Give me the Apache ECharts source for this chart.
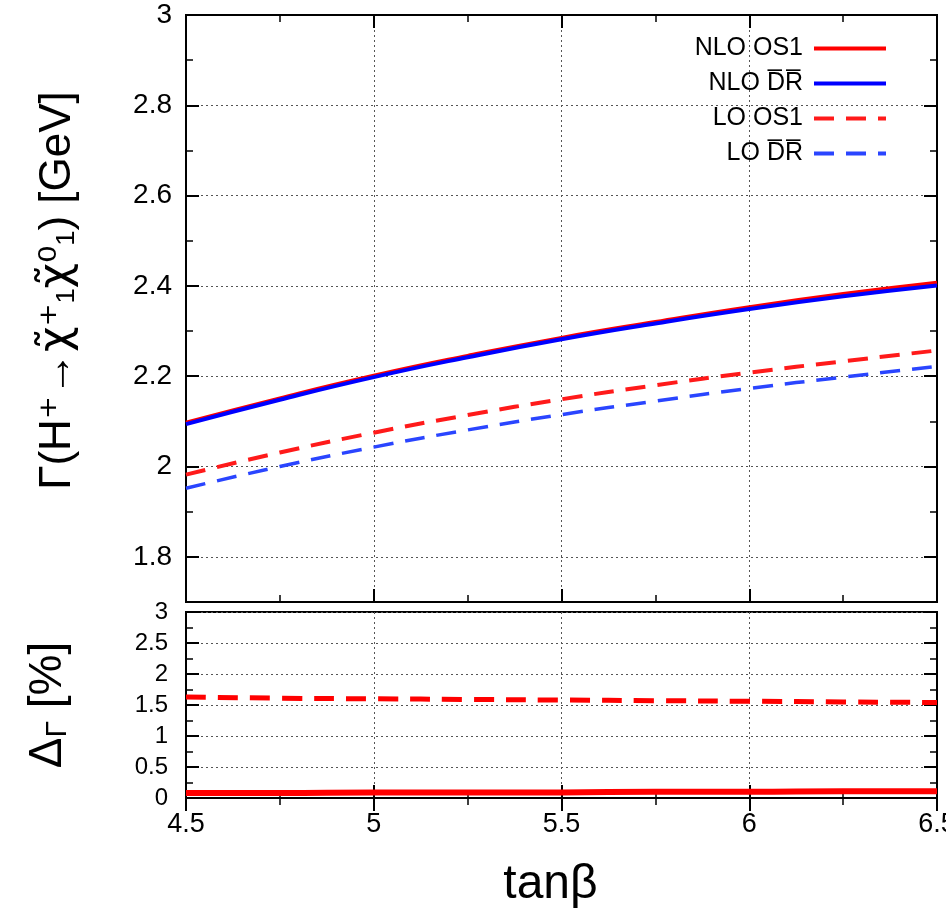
<!DOCTYPE html>
<html><head><meta charset="utf-8">
<script src="https://cdn.jsdelivr.net/npm/echarts@6/dist/echarts.min.js"></script>
<style>html,body{margin:0;padding:0;background:#fff}#c{width:946px;height:910px}</style>
</head><body><div id="c"></div>
<script>
const tanBeta = [4.5, 4.75, 5, 5.25, 5.5, 5.75, 6, 6.25, 6.5];
const nloOS1 = [2.097, 2.151, 2.201, 2.245, 2.285, 2.320, 2.353, 2.382, 2.407];
const nloDR  = [2.094, 2.148, 2.198, 2.242, 2.282, 2.317, 2.349, 2.377, 2.401];
const loOS1  = [1.982, 2.031, 2.075, 2.114, 2.149, 2.180, 2.208, 2.233, 2.257];
const loDR   = [1.952, 2.000, 2.043, 2.081, 2.115, 2.145, 2.173, 2.198, 2.222];
const deltaNLO = [0.08, 0.08, 0.09, 0.09, 0.09, 0.10, 0.10, 0.11, 0.11];
const deltaLO  = [1.63, 1.61, 1.60, 1.59, 1.58, 1.57, 1.56, 1.55, 1.54];
const topMajorTicks = [1.8, 2.0, 2.2, 2.4, 2.6, 2.8, 3.0];
const seriesNames = ['NLO OS1', 'NLO D\u0305R\u0305', 'LO OS1', 'LO D\u0305R\u0305'];

const FONT = "'Liberation Sans', 'DejaVu Sans', Arial, sans-serif";
const pairs = (ys) => tanBeta.map((x, i) => [x, ys[i]]);
const gridLine = { show: true, lineStyle: { color: '#555', width: 1, type: [2, 3] } };
const axLine = { show: true, lineStyle: { color: '#000', width: 2 } };
const DASH = [20, 12];

function xAx(grid, pos, labels) {
  return {
    type: 'value', gridIndex: grid, position: pos, min: 4.5, max: 6.5, interval: 0.5,
    axisLine: axLine,
    axisTick: { show: true, inside: true, length: 13, lineStyle: { color: '#000', width: 2 } },
    minorTick: { show: true, splitNumber: 2, length: 7, lineStyle: { color: '#000', width: 1.5 } },
    axisLabel: labels ? { show: true, margin: 13, fontSize: 27, color: '#000', fontFamily: FONT } : { show: false },
    splitLine: pos === 'bottom' ? gridLine : { show: false },
    name: labels ? 'tan\u03B2' : '', nameLocation: 'middle', nameGap: 63,
    nameTextStyle: { fontSize: 48, color: '#000', fontFamily: FONT, padding: [0, 22, 0, 0] }
  };
}

const option = {
  animation: false,
  backgroundColor: '#fff',
  grid: [
    { left: 186, right: 9, top: 15, height: 587, show: true, borderColor: '#000', borderWidth: 2, outerBoundsMode: 'none', containLabel: false },
    { left: 186, right: 9, top: 612, height: 186, show: true, borderColor: '#000', borderWidth: 2, outerBoundsMode: 'none', containLabel: false }
  ],
  xAxis: [xAx(0, 'bottom', false), xAx(0, 'top', false), xAx(1, 'bottom', true), xAx(1, 'top', false)],
  yAxis: [
    { type: 'value', gridIndex: 0, position: 'left', min: 1.7, max: 3, interval: 0.1,
      axisLine: axLine,
      axisTick: { show: true, inside: true, length: 13, customValues: topMajorTicks, lineStyle: { color: '#000', width: 2 } },
      axisLabel: { show: true, customValues: topMajorTicks, margin: 14, fontSize: 28, color: '#000', fontFamily: FONT },
      splitLine: gridLine,
      name: '{a|\u0393(H\u207A\u2192}{c|\u03C7\u0303}{a|\u207A\u2081}{c|\u03C7\u0303}{a|\u2070\u2081) [GeV]}',
      nameLocation: 'middle', nameGap: 106,
      nameTextStyle: { color: '#000', fontFamily: FONT, padding: [0, 0, 0, 36],
        rich: { a: { fontSize: 44, fontFamily: FONT, color: '#000' },
                c: { fontSize: 44, fontFamily: "'DejaVu Sans', sans-serif", color: '#000' } } } },
    { type: 'value', gridIndex: 0, position: 'right', min: 1.7, max: 3, interval: 0.1,
      axisLine: axLine,
      axisTick: { show: true, inside: true, length: 13, customValues: topMajorTicks, lineStyle: { color: '#000', width: 2 } },
      axisLabel: { show: false }, splitLine: { show: false } },
    { type: 'value', gridIndex: 0, position: 'left', min: 1.7, max: 3, interval: 0.1,
      axisLine: { show: false },
      axisTick: { show: true, inside: true, length: 7, lineStyle: { color: '#000', width: 1.5 } },
      axisLabel: { show: false }, splitLine: { show: false } },
    { type: 'value', gridIndex: 0, position: 'right', min: 1.7, max: 3, interval: 0.1,
      axisLine: { show: false },
      axisTick: { show: true, inside: true, length: 7, lineStyle: { color: '#000', width: 1.5 } },
      axisLabel: { show: false }, splitLine: { show: false } },
    { type: 'value', gridIndex: 1, position: 'left', min: 0, max: 3, interval: 0.5,
      axisLine: axLine,
      axisTick: { show: true, inside: true, length: 13, lineStyle: { color: '#000', width: 2 } },
      minorTick: { show: true, splitNumber: 2, length: 7, lineStyle: { color: '#000', width: 1.5 } },
      axisLabel: { show: true, margin: 18, fontSize: 24, color: '#000', fontFamily: FONT },
      splitLine: gridLine,
      name: '{a|\u0394}{s|\u0393}{a| [%]}', nameLocation: 'middle', nameGap: 113,
      nameTextStyle: { color: '#000', fontFamily: FONT,
        rich: { a: { fontSize: 46, fontFamily: FONT, color: '#000', lineHeight: 50 },
                s: { fontSize: 30, fontFamily: FONT, color: '#000', verticalAlign: 'bottom', lineHeight: 50, padding: [16, 0, 0, 0] } } } },
    { type: 'value', gridIndex: 1, position: 'right', min: 0, max: 3, interval: 0.5,
      axisLine: axLine,
      axisTick: { show: true, inside: true, length: 13, lineStyle: { color: '#000', width: 2 } },
      minorTick: { show: true, splitNumber: 2, length: 7, lineStyle: { color: '#000', width: 1.5 } },
      axisLabel: { show: false }, splitLine: { show: false } }
  ],
  legend: {
    data: seriesNames, orient: 'vertical', right: 53, top: 31, align: 'right',
    itemWidth: 72, itemHeight: 14, itemGap: 10,
    itemStyle: { opacity: 0 },
    lineStyle: { width: 4 },
    textStyle: { fontSize: 25, color: '#000', fontFamily: FONT, padding: [0, 6, 0, 0] }
  },
  series: [
    { name: seriesNames[0], type: 'line', xAxisIndex: 0, yAxisIndex: 0, data: pairs(nloOS1), symbol: 'none', smooth: true,
      lineStyle: { color: '#ff0000', width: 4 }, itemStyle: { color: '#ff0000' }, z: 3 },
    { name: seriesNames[1], type: 'line', xAxisIndex: 0, yAxisIndex: 0, data: pairs(nloDR), symbol: 'none', smooth: true,
      lineStyle: { color: '#0000ff', width: 4 }, itemStyle: { color: '#0000ff' }, z: 4 },
    { name: seriesNames[2], type: 'line', xAxisIndex: 0, yAxisIndex: 0, data: pairs(loOS1), symbol: 'none', smooth: true,
      lineStyle: { color: '#ff1a1a', width: 4, type: DASH }, itemStyle: { color: '#ff1a1a' }, z: 3 },
    { name: seriesNames[3], type: 'line', xAxisIndex: 0, yAxisIndex: 0, data: pairs(loDR), symbol: 'none', smooth: true,
      lineStyle: { color: '#2a45ff', width: 3.5, type: DASH }, itemStyle: { color: '#2a45ff' }, z: 3 },
    { name: '\u0394 NLO', type: 'line', xAxisIndex: 2, yAxisIndex: 4, data: pairs(deltaNLO), symbol: 'none', smooth: true,
      lineStyle: { color: '#ff0000', width: 6 }, z: 3 },
    { name: '\u0394 LO', type: 'line', xAxisIndex: 2, yAxisIndex: 4, data: pairs(deltaLO), symbol: 'none', smooth: true,
      lineStyle: { color: '#ff0000', width: 5, type: DASH }, z: 3 }
  ]
};
echarts.init(document.getElementById('c'), null, { renderer: 'canvas' }).setOption(option);
</script></body></html>
